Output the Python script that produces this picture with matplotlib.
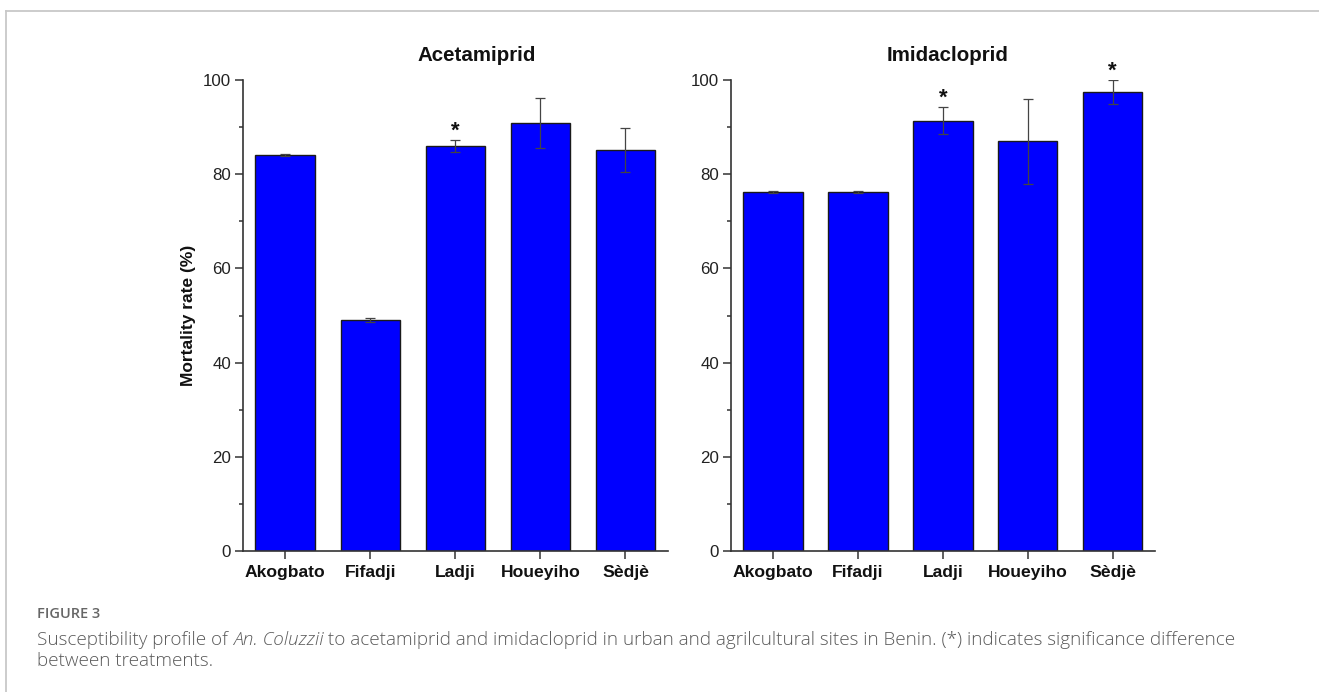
import matplotlib
matplotlib.use("Agg")
import matplotlib.pyplot as plt
from matplotlib.ticker import MultipleLocator
from matplotlib.lines import Line2D

# Sites and mortality rates (%) with standard errors
sites = ["Akogbato", "Fifadji", "Ladji", "Houeyiho", "Sèdjè"]

acetamiprid_mean = [84.0, 49.0, 86.0, 90.9, 85.2]
acetamiprid_err = [0.2, 0.4, 1.2, 5.3, 4.7]
acetamiprid_sig = [False, False, True, False, False]

imidacloprid_mean = [76.2, 76.2, 91.4, 87.0, 97.4]
imidacloprid_err = [0.15, 0.15, 2.9, 9.0, 2.5]
imidacloprid_sig = [False, False, True, False, True]

W, H, DPI = 1319, 692, 100
fig = plt.figure(figsize=(W / DPI, H / DPI), dpi=DPI)
fig.patch.set_facecolor("white")

# light frame around the figure panel
fig.add_artist(Line2D([6 / W, 1.0], [1 - 11 / H, 1 - 11 / H], transform=fig.transFigure,
                      color="#c8c8c8", lw=1.3))
fig.add_artist(Line2D([6 / W, 6 / W], [0.0, 1 - 11 / H], transform=fig.transFigure,
                      color="#c8c8c8", lw=1.3))

tick_font = "Liberation Sans"
text_col = "#222222"


def draw_panel(ax, means, errs, sig, title, title_x):
    x = list(range(1, len(sites) + 1))
    ax.bar(x, means, width=0.7, color="#0000ff", edgecolor="#1a1a1a", linewidth=1.0, zorder=2)
    ax.errorbar(x, means, yerr=errs, fmt="none", ecolor="#444444", elinewidth=0.9,
                capsize=3.8, capthick=0.9, zorder=3)
    for xi, m, e, s in zip(x, means, errs, sig):
        if s:
            ax.annotate("*", xy=(xi, m + e), xytext=(0, -1), textcoords="offset points",
                        ha="center", va="bottom", fontsize=16, fontweight="bold",
                        family=tick_font, color="#111111")
    ax.set_xlim(0.5, 5.5)
    ax.set_ylim(0, 100)
    ax.set_xticks(x)
    ax.set_xticklabels(sites, fontweight="bold", fontsize=12.6, family=tick_font, color="#111111")
    ax.yaxis.set_major_locator(MultipleLocator(20))
    ax.yaxis.set_minor_locator(MultipleLocator(10))
    for lab in ax.get_yticklabels():
        lab.set_family(tick_font)
        lab.set_fontsize(12.2)
        lab.set_color(text_col)
    ax.tick_params(axis="y", which="major", length=5.5, width=1.1, pad=3, direction="out",
                   color="#333333")
    ax.tick_params(axis="y", which="minor", length=3, width=1.1, direction="out", color="#333333")
    ax.tick_params(axis="x", which="major", length=5.5, width=1.1, pad=4.5, direction="out",
                   color="#333333")
    for side in ("top", "right"):
        ax.spines[side].set_visible(False)
    for side in ("left", "bottom"):
        ax.spines[side].set_linewidth(1.2)
        ax.spines[side].set_color("#333333")
    ax.text(title_x, 1.053, title, transform=ax.transAxes, ha="center", va="center",
            fontsize=14.8, fontweight="bold", family=tick_font, color="#111111")


ax1 = fig.add_axes([242.7 / W, 1 - 551 / H, (668 - 242.7) / W, (551 - 80) / H])
ax2 = fig.add_axes([730.7 / W, 1 - 551 / H, (1155 - 730.7) / W, (551 - 80) / H])

draw_panel(ax1, acetamiprid_mean, acetamiprid_err, acetamiprid_sig, "Acetamiprid", 0.549)
draw_panel(ax2, imidacloprid_mean, imidacloprid_err, imidacloprid_sig, "Imidacloprid", 0.512)

ax1.set_ylabel("Mortality rate (%)", fontsize=12.5, fontweight="bold", family=tick_font,
               color="#111111")
ax1.yaxis.set_label_coords(-0.1286, 0.5)
ax1.yaxis.label.set_va("center")

# caption
cap_font = "Open Sans"
cap_col = "#5a5a5a"
fig.text(37 / W, 1 - 614 / H, "FIGURE 3", ha="left", va="center", fontsize=10.5,
         family=cap_font, fontweight="semibold", color="#666666")

renderer = fig.canvas.get_renderer()
parts = [
    ("Susceptibility profile of ", "normal"),
    ("An. Coluzzii", "italic"),
    (" to acetamiprid and imidacloprid in urban and agrilcultural sites in Benin. (*) indicates significance difference", "normal"),
]
cap_size = 13.6
xpos = 37 / W
y1 = 1 - 645 / H
for txt, style in parts:
    t = fig.text(xpos, y1, txt, ha="left", va="baseline", fontsize=cap_size, family=cap_font,
                 style=style, color=cap_col, fontweight="light")
    bb = t.get_window_extent(renderer=renderer)
    xpos += bb.width / W
fig.text(37 / W, 1 - 666 / H, "between treatments.", ha="left", va="baseline", fontsize=cap_size,
         family=cap_font, color=cap_col, fontweight="light")

fig.savefig("out.png", dpi=DPI, facecolor="white")
